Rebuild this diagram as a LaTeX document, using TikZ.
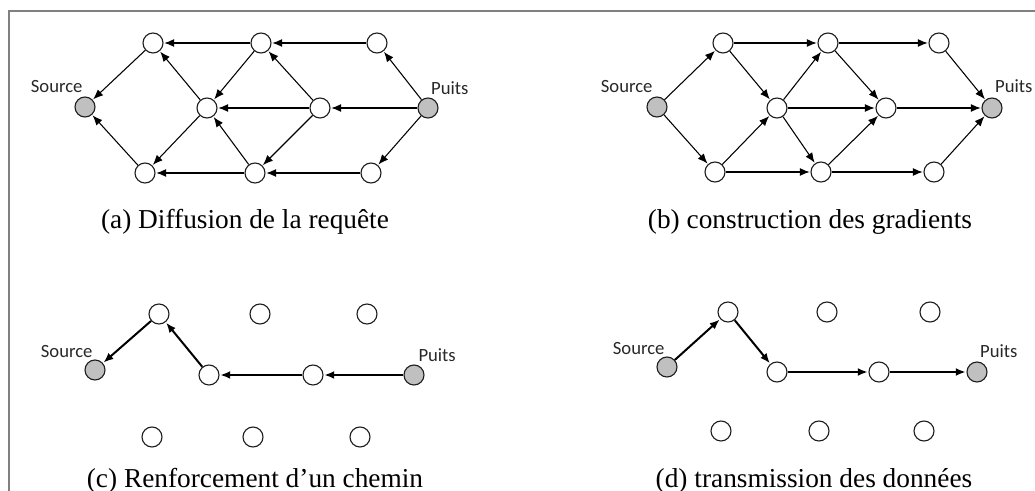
\documentclass[tikz,border=0pt]{standalone}
\usepackage{fontspec}
\setmainfont{Liberation Serif}
\newfontfamily\lblfont{Carlito}
\usetikzlibrary{arrows.meta}

\tikzset{every picture/.style={line width=0.75pt}}
\tikzset{
  nd/.style={circle, draw={rgb,255:red,30;green,30;blue,30}, fill=white, inner sep=0pt, minimum size=15pt, line width=0.85pt},
  ends/.style={nd, fill={rgb,255:red,192;green,192;blue,192}},
  arr/.style={-{Latex[length=7.5pt,width=6pt]}, line width=0.8pt, shorten >=0.5pt},
  thickarr/.style={arr, line width=1.5pt},
  lbl/.style={font=\lblfont\fontsize{14}{16}\selectfont, text={rgb,255:red,40;green,40;blue,40}, inner sep=0pt},
  captxt/.style={font=\fontsize{20.5}{24}\selectfont, inner sep=0pt, anchor=base}
}

\begin{document}
\begin{tikzpicture}[x=0.75pt,y=0.75pt,yscale=-1,xscale=1]
\useasboundingbox (0,0) rectangle (1035,491);

%Frame
\draw [color={rgb, 255:red, 128; green, 128; blue, 128 }, line width=1.5pt] (9,491) -- (9,11) -- (1035,11) ;

%(a) Diffusion de la requete
\node [ends] (aS) at (85,107) {};
\node [nd] (a1) at (153,43) {};
\node [nd] (a2) at (261,43) {};
\node [nd] (a3) at (377,43) {};
\node [nd] (a4) at (207,108) {};
\node [nd] (a5) at (320,108) {};
\node [ends] (aP) at (428,108) {};
\node [nd] (a6) at (145,173) {};
\node [nd] (a7) at (255,173) {};
\node [nd] (a8) at (371,173) {};
\foreach \u/\v in {a1/aS, a6/aS, a2/a1, a3/a2, a4/a1, a2/a4, a4/a6, a7/a4, a5/a4, a5/a2, a5/a7, aP/a5, aP/a3, aP/a8, a7/a6, a8/a7}
  \draw [arr] (\u) -- (\v) ;
% Text Node
\node [lbl, anchor=base east] (aSl) at ([xshift=-1.5pt,yshift=-10.5pt]aS.center) {Source};
\node [lbl, anchor=base west] (aPl) at ([xshift=2pt,yshift=-10pt]aP.center) {Puits};
\node [captxt] (acap) at (245,229) {(a) Diffusion de la requête};

%(b) construction des gradients
\node [ends] (bS) at (657,107) {};
\node [nd] (b1) at (723,43) {};
\node [nd] (b2) at (828,43) {};
\node [nd] (b3) at (939,43) {};
\node [nd] (b4) at (777,108) {};
\node [nd] (b5) at (886,108) {};
\node [ends] (bP) at (992,108) {};
\node [nd] (b6) at (715,172) {};
\node [nd] (b7) at (821,172) {};
\node [nd] (b8) at (934,172) {};
\foreach \u/\v in {bS/b1, bS/b6, b1/b2, b2/b3, b1/b4, b6/b4, b6/b7, b7/b8, b4/b2, b4/b5, b4/b7, b2/b5, b7/b5, b3/bP, b5/bP, b8/bP}
  \draw [arr] (\u) -- (\v) ;
% Text Node
\node [lbl, anchor=base east] (bSl) at ([xshift=-3pt,yshift=-11pt]bS.center) {Source};
\node [lbl, anchor=base west] (bPl) at ([xshift=2pt,yshift=-11.5pt]bP.center) {Puits};
\node [captxt] (bcap) at (810,229) {(b) construction des gradients};

%(c) Renforcement d'un chemin
\node [ends] (cS) at (95,370) {};
\node [nd] (c1) at (159,314) {};
\node [nd] (c2) at (260,314) {};
\node [nd] (c3) at (367,314) {};
\node [nd] (c4) at (209,375) {};
\node [nd] (c5) at (313,375) {};
\node [ends] (cP) at (414,375) {};
\node [nd] (c6) at (152,437) {};
\node [nd] (c7) at (253,437) {};
\node [nd] (c8) at (360,437) {};
\foreach \u/\v in {c1/cS, c4/c1, c5/c4, cP/c5}
  \draw [thickarr] (\u) -- (\v) ;
% Text Node
\node [lbl, anchor=base east] (cSl) at ([xshift=-1.5pt,yshift=-9pt]cS.center) {Source};
\node [lbl, anchor=base west] (cPl) at ([xshift=3pt,yshift=-10pt]cP.center) {Puits};
\node [captxt] (ccap) at (255,487) {(c) Renforcement d’un chemin};

%(d) transmission des donnees
\node [ends] (dS) at (667,367) {};
\node [nd] (d1) at (728,312) {};
\node [nd] (d2) at (827,312) {};
\node [nd] (d3) at (930,312) {};
\node [nd] (d4) at (777,372) {};
\node [nd] (d5) at (879,372) {};
\node [ends] (dP) at (977,372) {};
\node [nd] (d6) at (721,431) {};
\node [nd] (d7) at (819,431) {};
\node [nd] (d8) at (924,431) {};
\foreach \u/\v in {dS/d1, d1/d4, d4/d5, d5/dP}
  \draw [thickarr] (\u) -- (\v) ;
% Text Node
\node [lbl, anchor=base east] (dSl) at ([xshift=-1.5pt,yshift=-9pt]dS.center) {Source};
\node [lbl, anchor=base west] (dPl) at ([xshift=2pt,yshift=-11pt]dP.center) {Puits};
\node [captxt] (dcap) at (814,487) {(d) transmission des données};

\end{tikzpicture}
\end{document}
